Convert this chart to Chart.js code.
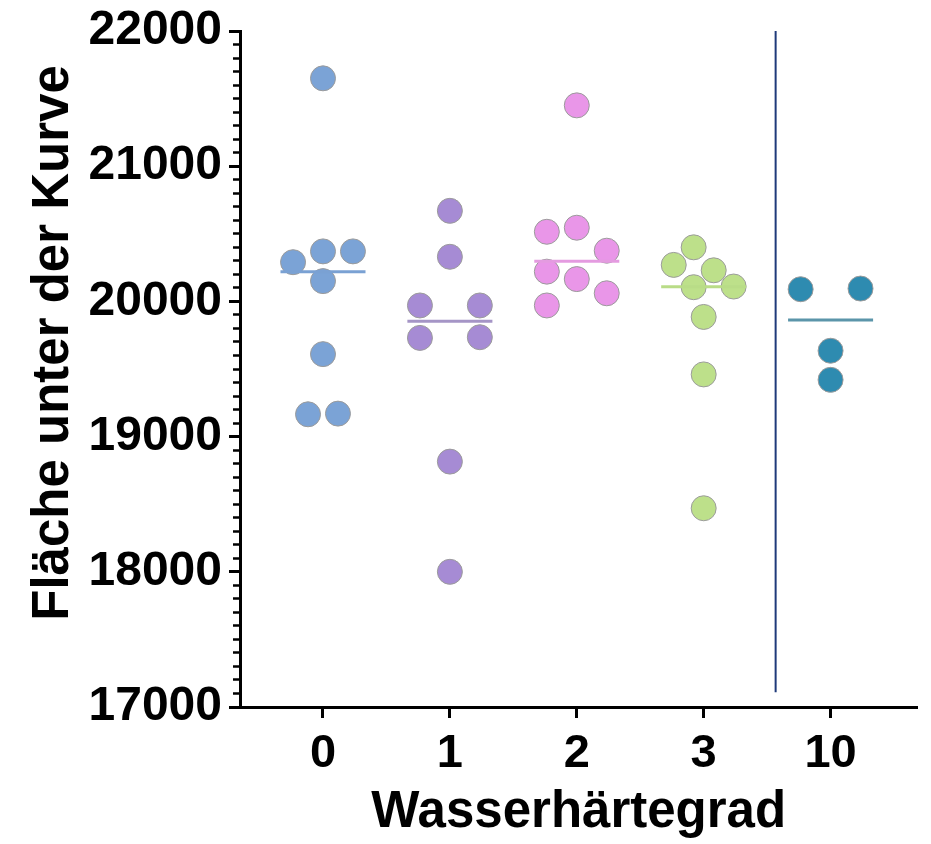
<!DOCTYPE html>
<html>
<head>
<meta charset="utf-8">
<script src="https://cdn.jsdelivr.net/npm/chart.js@4"></script>
<style>
  html, body { margin: 0; padding: 0; background: #fff; }
  #wrap { width: 931px; height: 844px; }
</style>
</head>
<body>
<div id="wrap"><canvas id="chart"></canvas></div>
<script>
// Wasserhärtegrad groups (x axis)
const groups = ["0", "1", "2", "3", "10"];

// Fläche unter der Kurve, one list per group
const area0 = [21650, 20370, 20370, 20290, 20150, 19610, 19165, 19170];
const area1 = [20670, 20330, 19970, 19970, 19730, 19735, 18815, 18000];
const area2 = [21450, 20545, 20515, 20375, 20220, 20165, 20060, 19970];
const area3 = [20400, 20270, 20230, 20105, 20110, 19885, 19460, 18470];
const area10 = [20090, 20095, 19635, 19420];

// horizontal scatter of the dots inside each group (beeswarm, in group units)
const spread0 = [0, 0, 0.236, -0.236, 0, 0, -0.118, 0.118];
const spread1 = [0, 0, -0.236, 0.236, -0.236, 0.236, 0, 0];
const spread2 = [0, 0, -0.236, 0.236, -0.236, 0, 0.236, -0.236];
const spread3 = [-0.079, -0.236, 0.079, -0.079, 0.236, 0, 0, 0];
const spread10 = [-0.236, 0.236, 0, 0];

const yTicks = [17000, 18000, 19000, 20000, 21000, 22000];

const fillColors = ["#7ba3d6", "#a68bd4", "#e996e8", "#bde08a", "#2e8bb0"];
const medianColors = ["#7aa1d3", "#a595c6", "#e49be0", "#b9dc87", "#5b95aa"];

const allAreas = [area0, area1, area2, area3, area10];
const allSpreads = [spread0, spread1, spread2, spread3, spread10];

const separatorX = 3.567; // between "3" and "10"

function median(arr) {
  const s = [...arr].sort((a, b) => a - b);
  const m = Math.floor(s.length / 2);
  return s.length % 2 ? s[m] : (s[m - 1] + s[m]) / 2;
}

const FONT = "'Liberation Sans', Arial, Helvetica, sans-serif";
const datasets = [];

// median bars
allAreas.forEach((vals, i) => {
  const med = median(vals);
  datasets.push({
    type: "line",
    data: [{ x: i - 0.335, y: med }, { x: i + 0.335, y: med }],
    borderColor: medianColors[i],
    borderWidth: 3,
    pointRadius: 0,
    fill: false,
  });
});

// dots
allAreas.forEach((vals, i) => {
  datasets.push({
    data: vals.map((v, j) => ({ x: i + allSpreads[i][j], y: v })),
    backgroundColor: fillColors[i],
    borderColor: "#9b9b9b",
    borderWidth: 1,
    pointRadius: 12.5,
  });
});

// separator line
datasets.push({
  type: "line",
  data: [{ x: separatorX, y: 17110 }, { x: separatorX, y: 22000 }],
  borderColor: "#1f3a7a",
  borderWidth: 2,
  pointRadius: 0,
  fill: false,
});

const yTitle = {
  id: "yTitle",
  afterDraw(chart) {
    const ctx = chart.ctx;
    ctx.save();
    ctx.translate(68, 343);
    ctx.rotate(-Math.PI / 2);
    ctx.font = "bold 51px " + FONT;
    ctx.fillStyle = "#000";
    ctx.textAlign = "center";
    ctx.textBaseline = "alphabetic";
    ctx.fillText("Fläche unter der Kurve", 0, 0);
    ctx.restore();
  },
};

new Chart(document.getElementById("chart"), {
  type: "scatter",
  data: { datasets },
  plugins: [yTitle],
  options: {
    responsive: true,
    maintainAspectRatio: false,
    animation: false,
    events: [],
    layout: { padding: { top: 30, right: 13, bottom: 0, left: 0 } },
    plugins: { legend: { display: false }, tooltip: { enabled: false } },
    scales: {
      x: {
        type: "linear",
        min: -0.654,
        max: 4.685,
        afterBuildTicks: (s) => {
          s.ticks = groups.map((g, i) => ({ value: i }));
        },
        afterFit: (s) => {
          s.height = 137;
        },
        ticks: {
          callback: (v) => groups[v],
          autoSkip: false,
          maxRotation: 0,
          color: "#000",
          padding: 8,
          font: { family: FONT, size: 47, weight: "bold" },
        },
        grid: { drawOnChartArea: false, tickLength: 11, tickWidth: 3, tickColor: "#000" },
        border: { color: "#000", width: 3 },
        title: {
          display: true,
          text: "Wasserhärtegrad",
          color: "#000",
          padding: 0,
          font: { family: FONT, size: 51, weight: "bold" },
        },
      },
      y: {
        type: "linear",
        position: "left",
        weight: 1,
        min: 17000,
        max: 22000,
        afterBuildTicks: (s) => {
          s.ticks = yTicks.map((v) => ({ value: v }));
        },
        afterFit: (s) => {
          s.width = 240;
        },
        ticks: {
          callback: (v) => String(v),
          color: "#000",
          padding: 7,
          font: { family: FONT, size: 48, weight: "bold", lineHeight: 1 },
        },
        grid: { drawOnChartArea: false, tickLength: 11, tickWidth: 3, tickColor: "#000" },
        border: { color: "#000", width: 3 },
      },
      yMinor: {
        type: "linear",
        position: "left",
        weight: 0,
        min: 17000,
        max: 22000,
        afterFit: (s) => {
          s.width = 0;
        },
        ticks: { stepSize: 100, display: false },
        grid: { drawOnChartArea: false, tickLength: 7, tickWidth: 2.5, tickColor: "#000" },
        border: { display: false },
      },
    },
  },
});
</script>
</body>
</html>
